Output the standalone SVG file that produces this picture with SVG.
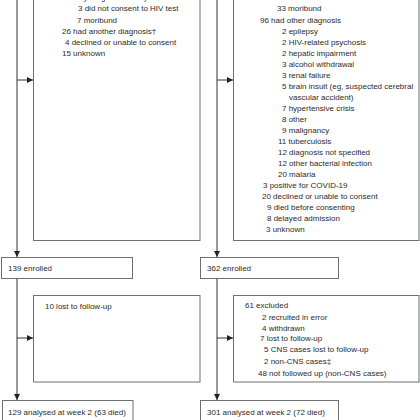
<svg xmlns="http://www.w3.org/2000/svg" width="420" height="420" viewBox="0 0 420 420">
<defs>
<style>
.box{fill:#fff;stroke:#6d6e71;stroke-width:1}
.ln{fill:none;stroke:#333;stroke-width:1}
text{font-family:"Liberation Sans",Arial,sans-serif;font-size:8px;fill:#2b2b2b}
</style>
<marker id="ah" viewBox="0 0 6 6" refX="6" refY="3" markerWidth="6" markerHeight="6" orient="auto" markerUnits="userSpaceOnUse">
<path d="M0,0 L6,3 L0,6 Z" fill="#222"/>
</marker>
</defs>
<rect width="420" height="420" fill="#fff"/>
<g id="connectors">
<path class="ln" d="M17,-2 V257" marker-end="url(#ah)"/>
<path class="ln" d="M17,80 H33" marker-end="url(#ah)"/>
<path class="ln" d="M17,278 V400" marker-end="url(#ah)"/>
<path class="ln" d="M17,338 H33" marker-end="url(#ah)"/>
<path class="ln" d="M217,-2 V257" marker-end="url(#ah)"/>
<path class="ln" d="M217,80 H233" marker-end="url(#ah)"/>
<path class="ln" d="M217,278 V400" marker-end="url(#ah)"/>
<path class="ln" d="M217,338 H233" marker-end="url(#ah)"/>
</g>
<g id="excluded-left">
<rect class="box" x="33.5" y="-5" width="166.5" height="245.5"/>
<text x="77" y="0">5 younger than 18 years</text>
<text x="78" y="11">3 did not consent to HIV test</text>
<text x="77" y="23">7 moribund</text>
<text x="62" y="34">26 had another diagnosis†</text>
<text x="65" y="45">4 declined or unable to consent</text>
<text x="62" y="56">15 unknown</text>
</g>
<g id="excluded-right">
<rect class="box" x="233.5" y="-5" width="185.5" height="245.5"/>
<text x="277" y="11">33 moribund</text>
<text x="260" y="23">96 had other diagnosis</text>
<text x="282" y="34">2 epilepsy</text>
<text x="282" y="45">2 HIV-related psychosis</text>
<text x="282" y="56">2 hepatic impairment</text>
<text x="282" y="67">3 alcohol withdrawal</text>
<text x="282" y="78">3 renal failure</text>
<text x="282" y="89">5 brain insult (eg, suspected cerebral</text>
<text x="289" y="100">vascular accident)</text>
<text x="282" y="111">7 hypertensive crisis</text>
<text x="282" y="122">8 other</text>
<text x="282" y="133">9 malignancy</text>
<text x="278" y="144">11 tuberculosis</text>
<text x="278" y="155">12 diagnosis not specified</text>
<text x="278" y="166">12 other bacterial infection</text>
<text x="278" y="177">20 malaria</text>
<text x="263" y="188">3 positive for COVID-19</text>
<text x="262" y="199">20 declined or unable to consent</text>
<text x="267" y="210">9 died before consenting</text>
<text x="267" y="221">8 delayed admission</text>
<text x="266" y="232">3 unknown</text>
</g>
<g id="enrolled-left">
<rect class="box" x="1.5" y="257.5" width="131" height="21"/>
<text x="8" y="271">139 enrolled</text>
</g>
<g id="enrolled-right">
<rect class="box" x="200.5" y="257.5" width="138" height="21"/>
<text x="207" y="271">362 enrolled</text>
</g>
<g id="lost-left">
<rect class="box" x="33.5" y="295.5" width="166.5" height="86.5"/>
<text x="45" y="309">10 lost to follow-up</text>
</g>
<g id="lost-right">
<rect class="box" x="233.5" y="295.5" width="185.5" height="86.5"/>
<text x="245" y="308">61 excluded</text>
<text x="262" y="320">2 recruited in error</text>
<text x="262" y="331">4 withdrawn</text>
<text x="260" y="341">7 lost to follow-up</text>
<text x="264" y="352">5 CNS cases lost to follow-up</text>
<text x="264" y="364">2 non-CNS cases‡</text>
<text x="258" y="376">48 not followed up (non-CNS cases)</text>
</g>
<g id="analysed-left">
<rect class="box" x="2.5" y="400.5" width="130.5" height="25"/>
<text x="8" y="415">129 analysed at week 2 (63 died)</text>
</g>
<g id="analysed-right">
<rect class="box" x="200.5" y="400.5" width="138" height="25"/>
<text x="207" y="415">301 analysed at week 2 (72 died)</text>
</g>
</svg>
